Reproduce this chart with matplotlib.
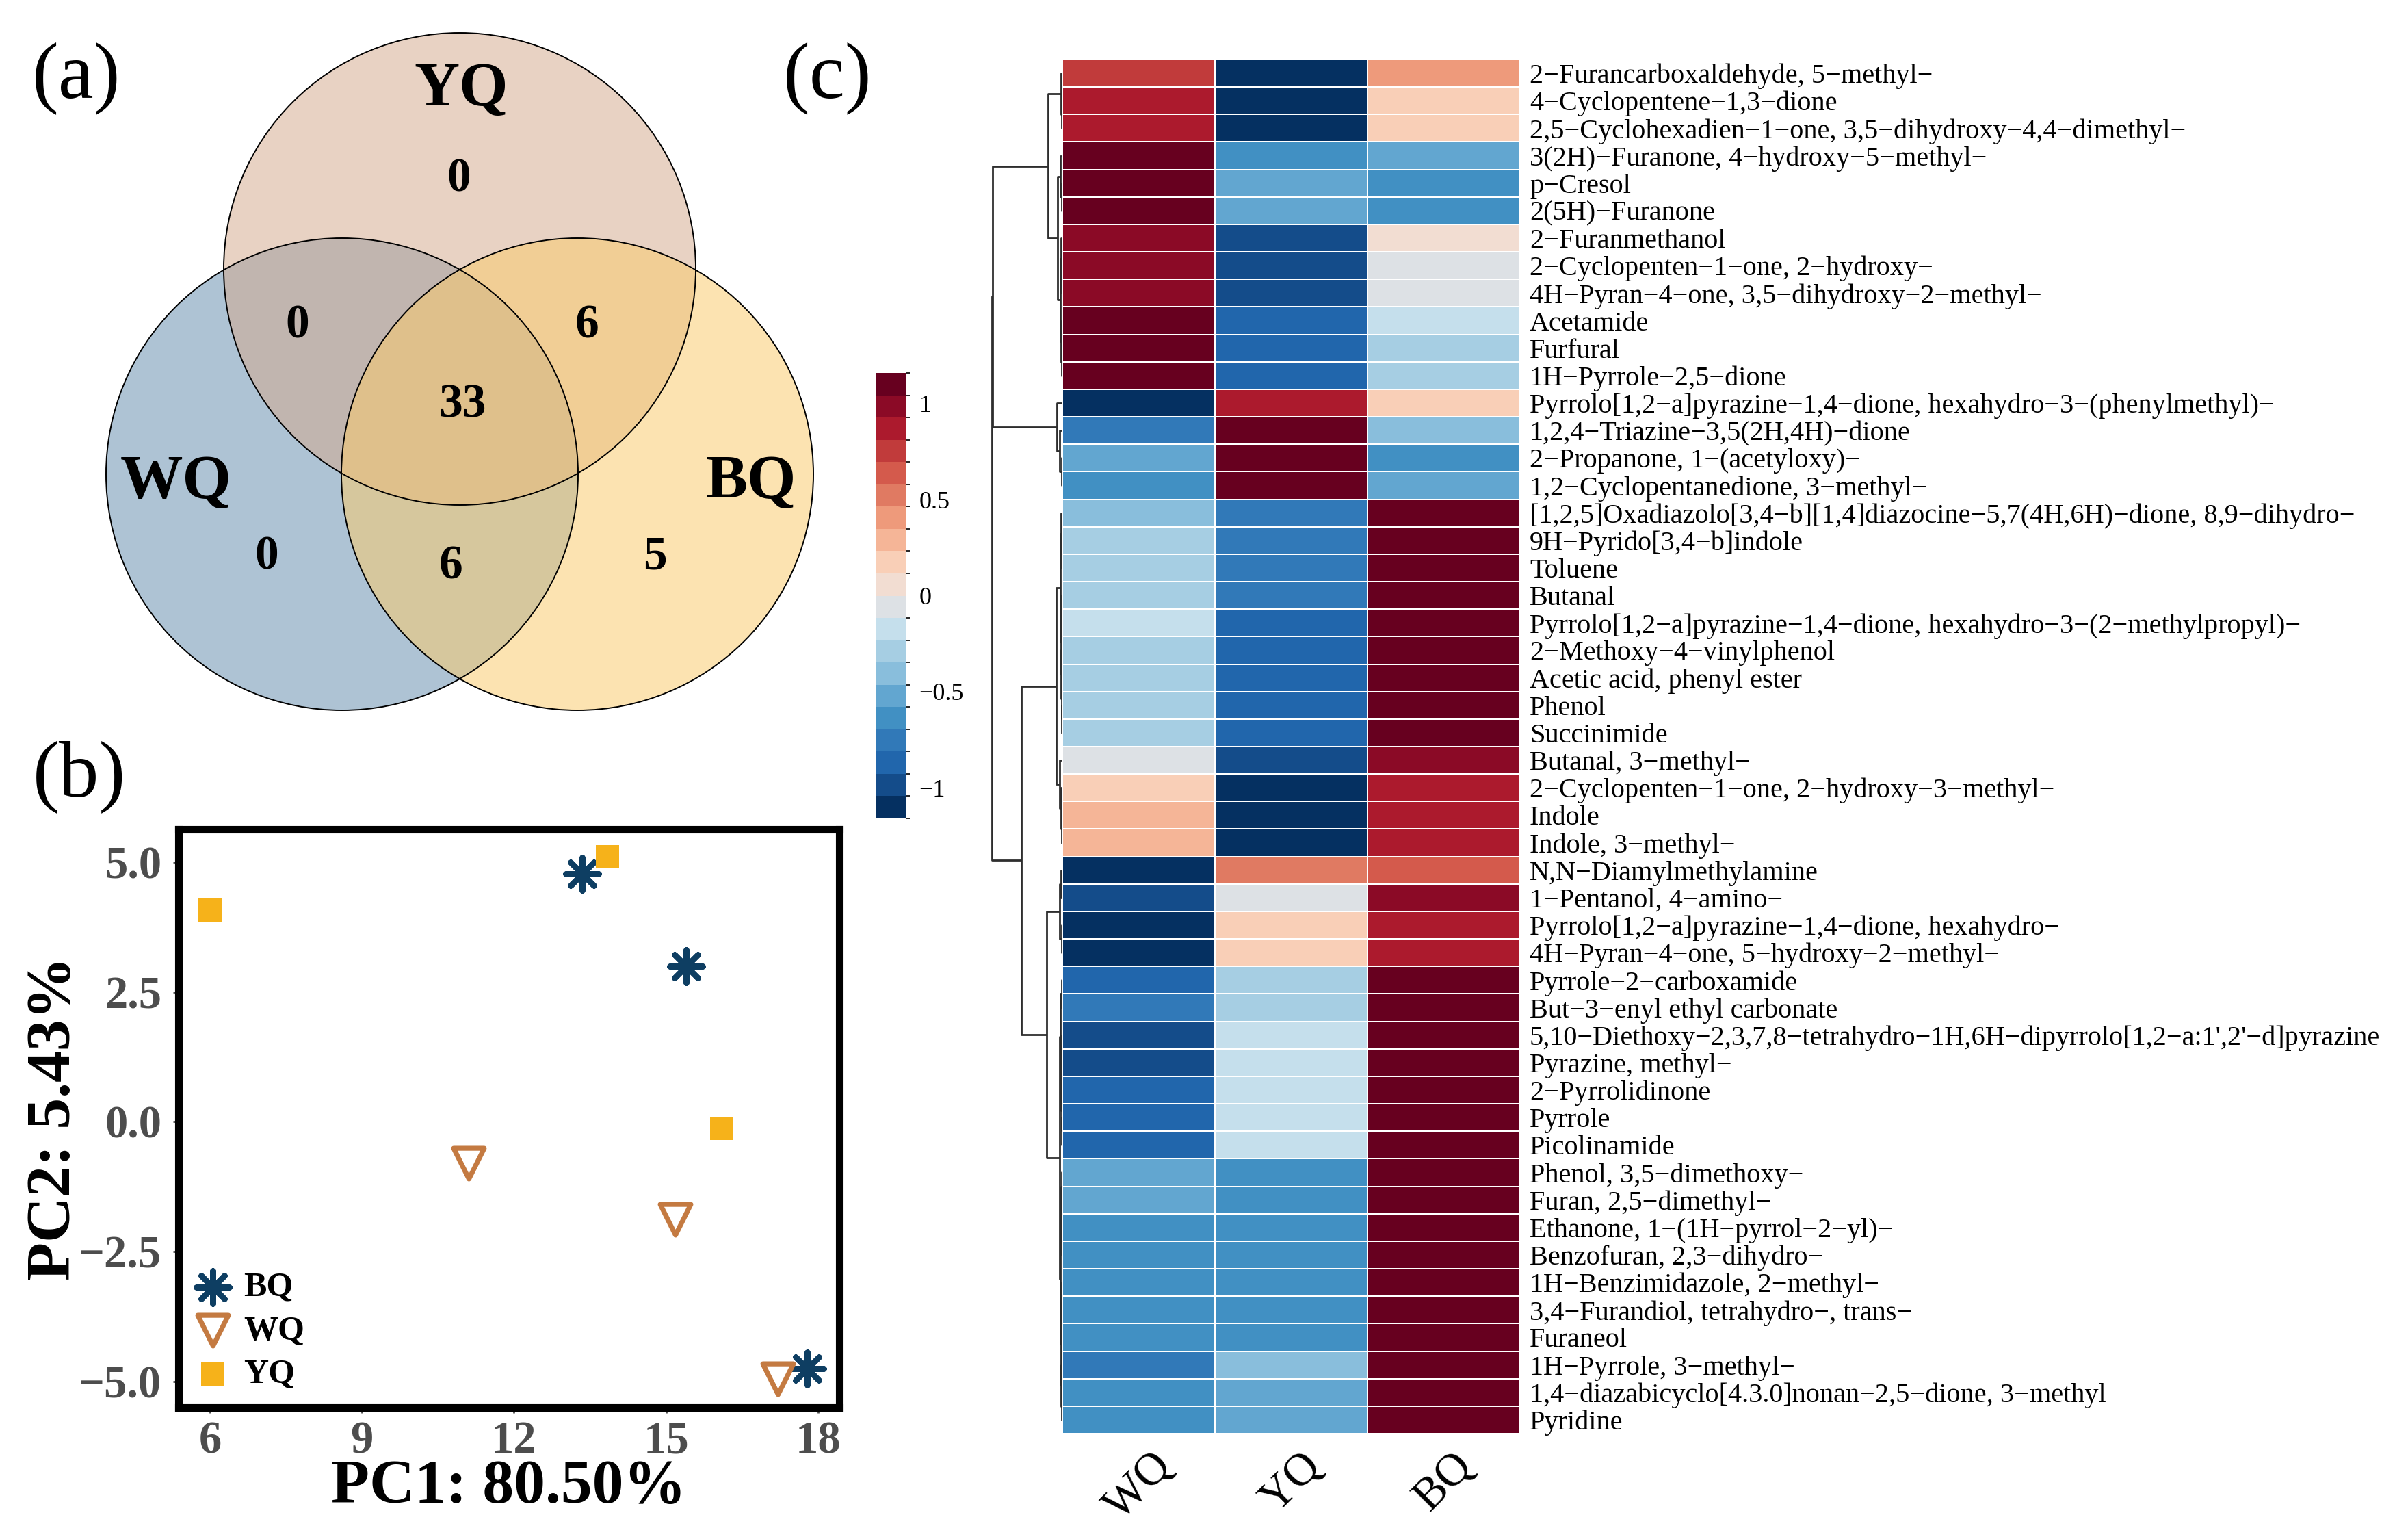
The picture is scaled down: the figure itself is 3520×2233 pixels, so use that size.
import numpy as np
import matplotlib
matplotlib.use('Agg')
import matplotlib.pyplot as plt
from matplotlib.patches import Circle
from matplotlib.colors import BoundaryNorm, ListedColormap
from matplotlib.cm import ScalarMappable

plt.rcParams['font.family'] = ['Liberation Serif', 'DejaVu Serif']

W, H = 3520, 2233

# ---- (a) venn counts
venn_sets = ['WQ', 'YQ', 'BQ']
venn_colors = ['#658dad', '#d3a98d', '#fbcb6b']
venn_counts = {'YQ': 0, 'WQ': 0, 'BQ': 5, 'WQ&YQ': 0, 'YQ&BQ': 6, 'WQ&BQ': 6, 'all': 33}

# ---- (b) PCA scores
pca_groups = ['BQ', 'WQ', 'YQ']
pca_x = {'BQ': [13.35, 15.4, 17.78], 'WQ': [11.1, 15.18, 17.2], 'YQ': [6.0, 13.85, 16.1]}
pca_y = {'BQ': [4.78, 3.0, -4.75], 'WQ': [-0.8, -1.88, -4.95], 'YQ': [4.08, 5.1, -0.12]}
pc1_label = 'PC1: 80.50%'
pc2_label = 'PC2: 5.43%'
x_ticks = [6, 9, 12, 15, 18]
y_ticks = [-5.0, -2.5, 0.0, 2.5, 5.0]
y_tick_labels = ['\u22125.0', '\u22122.5', '0.0', '2.5', '5.0']

# ---- (c) heatmap, row z-scores
compounds = [
    '2\u2212Furancarboxaldehyde, 5\u2212methyl\u2212',
    '4\u2212Cyclopentene\u22121,3\u2212dione',
    '2,5\u2212Cyclohexadien\u22121\u2212one, 3,5\u2212dihydroxy\u22124,4\u2212dimethyl\u2212',
    '3(2H)\u2212Furanone, 4\u2212hydroxy\u22125\u2212methyl\u2212',
    'p\u2212Cresol',
    '2(5H)\u2212Furanone',
    '2\u2212Furanmethanol',
    '2\u2212Cyclopenten\u22121\u2212one, 2\u2212hydroxy\u2212',
    '4H\u2212Pyran\u22124\u2212one, 3,5\u2212dihydroxy\u22122\u2212methyl\u2212',
    'Acetamide',
    'Furfural',
    '1H\u2212Pyrrole\u22122,5\u2212dione',
    'Pyrrolo[1,2\u2212a]pyrazine\u22121,4\u2212dione, hexahydro\u22123\u2212(phenylmethyl)\u2212',
    '1,2,4\u2212Triazine\u22123,5(2H,4H)\u2212dione',
    '2\u2212Propanone, 1\u2212(acetyloxy)\u2212',
    '1,2\u2212Cyclopentanedione, 3\u2212methyl\u2212',
    '[1,2,5]Oxadiazolo[3,4\u2212b][1,4]diazocine\u22125,7(4H,6H)\u2212dione, 8,9\u2212dihydro\u2212',
    '9H\u2212Pyrido[3,4\u2212b]indole',
    'Toluene',
    'Butanal',
    'Pyrrolo[1,2\u2212a]pyrazine\u22121,4\u2212dione, hexahydro\u22123\u2212(2\u2212methylpropyl)\u2212',
    '2\u2212Methoxy\u22124\u2212vinylphenol',
    'Acetic acid, phenyl ester',
    'Phenol',
    'Succinimide',
    'Butanal, 3\u2212methyl\u2212',
    '2\u2212Cyclopenten\u22121\u2212one, 2\u2212hydroxy\u22123\u2212methyl\u2212',
    'Indole',
    'Indole, 3\u2212methyl\u2212',
    'N,N\u2212Diamylmethylamine',
    '1\u2212Pentanol, 4\u2212amino\u2212',
    'Pyrrolo[1,2\u2212a]pyrazine\u22121,4\u2212dione, hexahydro\u2212',
    '4H\u2212Pyran\u22124\u2212one, 5\u2212hydroxy\u22122\u2212methyl\u2212',
    'Pyrrole\u22122\u2212carboxamide',
    'But\u22123\u2212enyl ethyl carbonate',
    "5,10\u2212Diethoxy\u22122,3,7,8\u2212tetrahydro\u22121H,6H\u2212dipyrrolo[1,2\u2212a:1',2'\u2212d]pyrazine",
    'Pyrazine, methyl\u2212',
    '2\u2212Pyrrolidinone',
    'Pyrrole',
    'Picolinamide',
    'Phenol, 3,5\u2212dimethoxy\u2212',
    'Furan, 2,5\u2212dimethyl\u2212',
    'Ethanone, 1\u2212(1H\u2212pyrrol\u22122\u2212yl)\u2212',
    'Benzofuran, 2,3\u2212dihydro\u2212',
    '1H\u2212Benzimidazole, 2\u2212methyl\u2212',
    '3,4\u2212Furandiol, tetrahydro\u2212, trans\u2212',
    'Furaneol',
    '1H\u2212Pyrrole, 3\u2212methyl\u2212',
    '1,4\u2212diazabicyclo[4.3.0]nonan\u22122,5\u2212dione, 3\u2212methyl',
    'Pyridine',
]
hm_cols = ['WQ', 'YQ', 'BQ']
wq_z = [0.73, 0.88, 0.88, 1.15, 1.15, 1.15, 0.97, 1.03, 1.03, 1.12,
        1.12, 1.12, -1.09, -0.75, -0.53, -0.62, -0.40, -0.30, -0.30, -0.30,
        -0.20, -0.30, -0.30, -0.30, -0.30, -0.05, 0.21, 0.28, 0.28, -1.15,
        -0.98, -1.09, -1.09, -0.82, -0.78, -0.95, -0.95, -0.86, -0.86, -0.86,
        -0.53, -0.53, -0.62, -0.62, -0.62, -0.62, -0.62, -0.72, -0.62, -0.62]
yq_z = [-1.14, -1.09, -1.09, -0.62, -0.53, -0.53, -1.03, -0.98, -0.98, -0.88,
        -0.84, -0.84, 0.88, 1.14, 1.15, 1.15, -0.75, -0.78, -0.78, -0.78,
        -0.86, -0.86, -0.86, -0.86, -0.86, -0.97, -1.09, -1.12, -1.12, 0.55,
        -0.04, 0.21, 0.21, -0.30, -0.33, -0.20, -0.20, -0.20, -0.20, -0.20,
        -0.62, -0.62, -0.62, -0.62, -0.62, -0.62, -0.62, -0.43, -0.53, -0.53]
bq_z = [0.41, 0.21, 0.21, -0.53, -0.62, -0.62, 0.06, -0.05, -0.05, -0.22,
        -0.30, -0.30, 0.21, -0.39, -0.62, -0.53, 1.15, 1.12, 1.12, 1.12,
        1.10, 1.14, 1.14, 1.14, 1.14, 1.02, 0.88, 0.84, 0.84, 0.60,
        1.02, 0.88, 0.88, 1.12, 1.11, 1.15, 1.15, 1.10, 1.10, 1.10,
        1.15, 1.15, 1.15, 1.15, 1.15, 1.15, 1.15, 1.15, 1.15, 1.15]

key_colors = ['#053061', '#144c8a', '#2166ac', '#3179b8', '#4190c3',
              '#62a6d0', '#89bedc', '#a6cee3', '#c5dfec', '#dde1e5',
              '#f2ddd2', '#f9cfb7', '#f5b597', '#ee9a7b', '#e07a62',
              '#d45a4c', '#c13b3b', '#ac1a2d', '#8b0a26', '#67001f']

# row dendrogram: (merge height, left, right), leaves are row indices
top_tree = (2.1, (0.2, 0, (0.1, 1, 2)),
            (0.7, (0.3, 3, (0.1, 4, 5)),
             (0.3, (0.2, 6, (0.1, 7, 8)), (0.2, 9, (0.1, 10, 11)))))
mid_tree = (0.8, 12, (0.4, 13, (0.1, 14, 15)))
c_tree = (0.9, (0.3, (0.2, 16, (0.1, 17, 18)),
                (0.2, (0.1, 19, 20), (0.15, 21, (0.1, 22, (0.05, 23, 24))))),
          (0.4, 25, (0.2, 26, (0.1, 27, 28))))
d_tree = (2.3, (0.4, (0.2, 29, 30), (0.1, 31, 32)),
          (0.4, (0.3, (0.1, 33, 34), (0.2, (0.1, 35, 36), (0.1, 37, (0.05, 38, 39)))),
           (0.3, (0.2, (0.1, 40, 41), (0.1, 42, 43)),
            (0.2, (0.1, 44, (0.05, 45, 46)), (0.15, 47, (0.1, 48, 49))))))
row_tree = (10.2, (10.1, top_tree, mid_tree), (5.9, c_tree, d_tree))


def fx(px):
    return px / W


def fy(py):
    return 1 - py / H


def draw_tree(ax, node):
    if isinstance(node, int):
        return node + 0.5, 0.0
    h, a, b = node
    ya, ha = draw_tree(ax, a)
    yb, hb = draw_tree(ax, b)
    ax.plot([ha, h, h, hb], [ya, ya, yb, yb], color='#2e2e2e', lw=1.0,
            solid_capstyle='butt')
    return (ya + yb) / 2, h


fig = plt.figure(figsize=(W / 200, H / 200), dpi=200)

# ---------------- (a) venn
ax_v = fig.add_axes([0, fy(1100), fx(1300), 1100 / H])
ax_v.set_xlim(0, 1300)
ax_v.set_ylim(1100, 0)
ax_v.axis('off')
centers = {'WQ': (500, 693), 'YQ': (672, 393), 'BQ': (844, 693)}
for name, col in zip(venn_sets, venn_colors):
    ax_v.add_patch(Circle(centers[name], 345, facecolor=col, alpha=0.52,
                          edgecolor='none'))
for name in venn_sets:
    ax_v.add_patch(Circle(centers[name], 345, facecolor='none',
                          edgecolor='black', lw=0.7))
ax_v.text(674, 132, 'YQ', fontsize=33, fontweight='bold', ha='center', va='center')
ax_v.text(257, 706, 'WQ', fontsize=33, fontweight='bold', ha='center', va='center')
ax_v.text(1098, 706, 'BQ', fontsize=33, fontweight='bold', ha='center', va='center')
num_pos = {'YQ': (671, 263), 'WQ&YQ': (435, 477), 'YQ&BQ': (858, 477),
           'all': (676, 593), 'WQ': (390, 814), 'WQ&BQ': (659, 828), 'BQ': (957, 814)}
for key, (px, py) in num_pos.items():
    ax_v.text(px, py, str(venn_counts[key]), fontsize=25, fontweight='bold',
              ha='center', va='center')

fig.text(fx(112), fy(114), '(a)', fontsize=42, ha='center', va='center')
fig.text(fx(116), fy(1135), '(b)', fontsize=42, ha='center', va='center')
fig.text(fx(1210), fy(114), '(c)', fontsize=42, ha='center', va='center')

# ---------------- (b) PCA
ax_p = fig.add_axes([fx(261), fy(2057), (1227 - 261) / W, (2057 - 1212) / H])
styles = {
    'BQ': dict(marker=(8, 2, 0), s=300, c='#0e3e62', linewidths=3.0),
    'WQ': dict(marker='v', s=260, facecolors='white', edgecolors='#c47a41', linewidths=2.6),
    'YQ': dict(marker='s', s=150, c='#f6b21a', linewidths=0),
}
for g in pca_groups:
    ax_p.scatter(pca_x[g], pca_y[g], label=g, zorder=3, **styles[g])
ax_p.set_xlim(5.38, 18.42)
ax_p.set_ylim(-5.5, 5.63)
ax_p.set_xticks(x_ticks)
ax_p.set_xticklabels([str(t) for t in x_ticks])
ax_p.set_yticks(y_ticks)
ax_p.set_yticklabels(y_tick_labels)
ax_p.tick_params(labelsize=24, labelcolor='#4d4d4d', color='#4d4d4d', length=3, width=1)
ax_p.tick_params(axis='x', pad=4)
ax_p.tick_params(axis='y', pad=6)
for lbl in ax_p.get_xticklabels() + ax_p.get_yticklabels():
    lbl.set_fontweight('bold')
for sp in ax_p.spines.values():
    sp.set_linewidth(4)
ax_p.set_xlabel(pc1_label, fontsize=33, fontweight='bold')
ax_p.xaxis.set_label_coords(0.5, -0.09)
ax_p.set_ylabel(pc2_label, fontsize=33, fontweight='bold')
ax_p.yaxis.set_label_coords(-0.145, 0.5)
ax_p.legend(loc='lower left', frameon=False, prop={'weight': 'bold', 'size': 18},
            handletextpad=0.4, labelspacing=0.35, borderaxespad=0.1,
            borderpad=0.4, handlelength=1.0)

# ---------------- (c) heatmap
cmap = ListedColormap(key_colors)
bounds = np.linspace(-1.16, 1.16, len(key_colors) + 1)
norm = BoundaryNorm(bounds, cmap.N)
Z = np.column_stack([wq_z, yq_z, bq_z])
n_rows = len(compounds)

ax_h = fig.add_axes([fx(1553), fy(2095), (2222 - 1553) / W, (2095 - 87) / H])
ax_h.pcolormesh(np.arange(len(hm_cols) + 1), np.arange(n_rows + 1), Z, cmap=cmap,
                norm=norm, edgecolors='white', linewidth=0.7)
ax_h.set_xlim(0, len(hm_cols))
ax_h.set_ylim(n_rows, 0)
ax_h.yaxis.tick_right()
ax_h.set_yticks(np.arange(n_rows) + 0.5)
ax_h.set_yticklabels(compounds, fontsize=14.5)
ax_h.set_xticks(np.arange(len(hm_cols)) + 0.5)
ax_h.set_xticklabels(hm_cols, fontsize=24, rotation=45, ha='center', va='top')
ax_h.tick_params(length=0)
ax_h.tick_params(axis='y', pad=5)
ax_h.tick_params(axis='x', pad=6)
for sp in ax_h.spines.values():
    sp.set_visible(False)

ax_d = fig.add_axes([fx(1440), fy(2095), (1553 - 1440) / W, (2095 - 87) / H])
draw_tree(ax_d, row_tree)
ax_d.set_xlim(11.2, 0)
ax_d.set_ylim(n_rows, 0)
ax_d.axis('off')

cax = fig.add_axes([fx(1281), fy(1196), (1324 - 1281) / W, (1196 - 545) / H])
cb = fig.colorbar(ScalarMappable(norm=norm, cmap=cmap), cax=cax,
                  ticks=[-1, -0.5, 0, 0.5, 1])
cb.ax.set_yticklabels(['\u22121', '\u22120.5', '0', '0.5', '1'])
cb.outline.set_visible(False)
cb.ax.tick_params(length=0, labelsize=13, pad=7)

fig.savefig('out.png', dpi=200)
